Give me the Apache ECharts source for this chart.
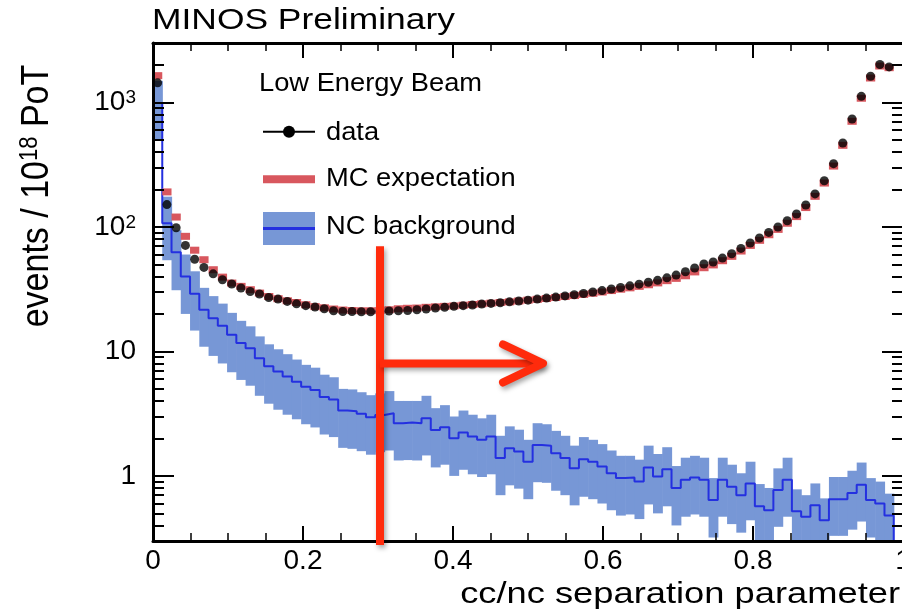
<!DOCTYPE html>
<html><head><meta charset="utf-8">
<script src="https://cdn.jsdelivr.net/npm/echarts@6/dist/echarts.min.js"></script>
<style>html,body{margin:0;padding:0;background:#fff}#c{width:902px;height:616px}</style>
</head><body><div id="c"></div>
<script>
const FONT = '"Liberation Sans", Arial, Helvetica, sans-serif';

// ---- data (80 bins along cc/nc separation parameter) ----
const binWidth = 1 / 81;
const dataVals = [1435,151,98.5,71,55,47.3,42,37.6,34.8,32.3,
  30.3,28.9,27.1,26.3,25.2,24.1,23.3,22.7,22.0,21.2,
  20.9,20.9,20.8,20.8,20.9,21.1,21.2,21.3,21.6,21.9,
  22.3,22.6,23.0,23.3,23.6,24.0,24.3,24.6,25.0,25.4,
  25.8,26.3,26.8,27.3,27.9,28.5,29.2,30.0,30.8,31.7,
  32.6,33.6,34.7,35.9,37.2,39.0,41.0,43.6,46.8,50.3,
  52.2,56.2,60.9,67.2,74.3,81.5,90.3,99.8,112,127,
  150,184,235,322,472,736,1119,1622,2014,1928];
const mcVals = [1640,191,120,84,65,54.5,45.3,39.5,35.4,33.3,
  31.3,29.4,27.6,26.5,25.5,24.7,23.7,22.9,22.4,21.9,
  21.5,21.3,21.2,21.2,21.3,21.6,22.0,22.2,22.3,22.6,
  22.8,23.0,23.2,23.5,23.8,24.1,24.4,24.7,25.0,25.4,
  25.8,26.2,26.6,27.1,27.6,28.1,28.7,29.3,30.0,30.8,
  31.6,32.4,33.3,34.3,35.5,37.0,38.6,40.5,43.5,47.0,
  49.5,53.5,58.0,64.0,71.0,78.0,86.5,95.5,107,121,
  143,176,225,308,452,705,1080,1570,1960,1900];
const ncVals = [990,107,62.5,40,29,21.6,18.5,16.1,13.6,11.7,
  10.6,8.8,7.6,6.9,6.3,5.7,5.2,4.9,4.3,4.1,
  3.35,3.3,3.15,2.96,3.09,3.19,2.65,2.68,2.65,2.91,
  2.34,2.46,2.01,2.23,2.07,1.95,2.07,1.39,1.67,1.57,
  1.30,1.77,1.75,1.52,1.39,1.15,1.36,1.30,1.19,1.05,
  0.96,0.97,0.90,1.17,0.99,1.13,0.80,0.93,0.97,0.93,
  0.64,0.93,0.82,0.70,0.87,0.57,0.53,0.77,0.93,0.52,
  0.47,0.58,0.44,0.65,0.65,0.73,0.85,0.64,0.60,0.48];
const ncLow = [500,54,31,20,14.7,10.9,9.2,8.0,6.8,5.9,
  5.3,4.4,3.8,3.4,3.1,2.85,2.6,2.45,2.15,2.05,
  1.68,1.65,1.58,1.48,1.55,1.6,1.33,1.34,1.33,1.46,
  1.17,1.23,1.0,1.12,1.03,0.98,1.03,0.7,0.84,0.79,
  0.65,0.89,0.88,0.76,0.7,0.58,0.68,0.65,0.6,0.53,
  0.48,0.49,0.45,0.59,0.5,0.57,0.4,0.47,0.49,0.47,
  0.32,0.47,0.41,0.35,0.44,0.29,0.27,0.39,0.47,0.26,
  0.24,0.29,0.22,0.33,0.33,0.37,0.43,0.32,0.3,0.24];
const ncHigh = [1490,175,94,60,44,32.4,27.8,24.2,20.4,17.6,
  15.9,13.2,11.4,10.4,9.5,8.6,7.8,7.4,6.5,6.2,
  5.0,4.95,4.7,4.45,4.6,4.8,4.0,4.0,4.0,4.4,
  3.5,3.7,3.0,3.35,3.1,2.9,3.1,2.1,2.5,2.35,
  1.95,2.65,2.6,2.3,2.1,1.75,2.05,1.95,1.8,1.6,
  1.45,1.45,1.35,1.75,1.5,1.7,1.2,1.4,1.45,1.4,
  0.96,1.4,1.23,1.05,1.3,0.86,0.8,1.15,1.4,0.78,
  0.7,0.87,0.66,0.98,0.98,1.1,1.28,0.96,0.9,0.72];

// ---- axes / ticks ----
const xTickLabels = {0: '0', 0.2: '0.2', 0.4: '0.4', 0.6: '0.6', 0.8: '0.8', 1: '1'};
const yMajorTicks = [1, 10, 100, 1000];
const yMinorTicks = [0.3,0.4,0.5,0.6,0.7,0.8,0.9, 2,3,4,5,6,7,8,9,
  20,30,40,50,60,70,80,90, 200,300,400,500,600,700,800,900, 2000];
const yTickLabels = {1: '{n|1}', 10: '{n|10}', 100: '{n|10}{s|2}', 1000: '{n|10}{s|3}'};
const yMin = 0.3, yMax = 3000;
const cutX = 0.3, cutTopVal = 70, arrowVal = 8, arrowEndX = 0.52;

// colours
const BAND = '#7797d6', NCLINE = '#2430e0', MCRED = '#d8575e', CUTRED = '#ff2b0c';

const bins = dataVals.map((_, i) => [i * binWidth, (i + 1) * binWidth]);
const bandData = bins.map((b, i) => [b[0], b[1], ncLow[i], ncHigh[i]]);
const mcData = bins.map((b, i) => [b[0], b[1], mcVals[i]]);
const dotData = bins.map((b, i) => [(b[0] + b[1]) / 2, dataVals[i]]);
const ncLine = bins.map((b, i) => [b[0], ncVals[i]]);
ncLine.push([bins[bins.length - 1][1], ncVals[ncVals.length - 1]]);
ncLine.push([bins[bins.length - 1][1], yMin]);

const chart = echarts.init(document.getElementById('c'), null, {renderer: 'canvas'});

const axisLineStyle = {color: '#000', width: 3};
function xAx(pos, labels) {
  return {
    type: 'value', min: 0, max: 1, interval: 0.2, position: pos, z: 10,
    axisLine: {show: true, onZero: false, lineStyle: axisLineStyle},
    axisTick: {show: true, inside: true, length: 15, lineStyle: {color: '#000', width: 2}},
    minorTick: {show: true, splitNumber: 4, length: 8, lineStyle: {color: '#000', width: 1.5}},
    minorSplitLine: {show: false},
    axisLabel: labels ? {show: true, margin: 6, fontSize: 28, fontFamily: FONT, color: '#000',
      formatter: v => xTickLabels[Math.round(v * 10) / 10] ?? ''} : {show: false},
    splitLine: {show: false}
  };
}
function yAx(pos, major, labels) {
  return {
    type: 'log', logBase: 10, min: yMin, max: yMax, position: pos, z: 10,
    axisLine: {show: major, onZero: false, lineStyle: axisLineStyle},
    axisTick: {show: true, inside: true, length: major ? 21 : 11,
      customValues: major ? yMajorTicks : yMinorTicks, lineStyle: {color: '#000', width: 2}},
    minorTick: {show: false},
    axisLabel: labels ? {show: true, margin: 17, color: '#000', fontFamily: FONT,
      customValues: yMajorTicks,
      formatter: v => yTickLabels[Math.round(v)] ?? '',
      rich: {n: {fontSize: 28, fontFamily: FONT, color: '#000'},
             s: {fontSize: 19, fontFamily: FONT, color: '#000', verticalAlign: 'top'}}} : {show: false},
    splitLine: {show: false}
  };
}

const option = {
  animation: false,
  backgroundColor: '#fff',
  grid: {left: 153, right: -1, top: 43, bottom: 75, containLabel: false, outerBoundsMode: 'none'},
  xAxis: [xAx('bottom', true), xAx('top', false)],
  yAxis: [yAx('left', true, true), yAx('left', false, false), yAx('right', true, false), yAx('right', false, false)],
  series: [
    {
      type: 'custom', name: 'NC band', xAxisIndex: 0, yAxisIndex: 0, z: 1, clip: true,
      data: bandData, encode: {x: [0, 1], y: [2, 3]},
      renderItem: (params, api) => {
        const p0 = api.coord([api.value(0), api.value(3)]);
        const p1 = api.coord([api.value(1), api.value(2)]);
        return {type: 'rect', shape: {x: p0[0], y: p0[1], width: p1[0] - p0[0] + 0.6, height: p1[1] - p0[1]},
          style: {fill: BAND}};
      }
    },
    {
      type: 'line', name: 'NC background', xAxisIndex: 0, yAxisIndex: 0, z: 2, step: 'end',
      data: ncLine, symbol: 'none', clip: true, lineStyle: {color: NCLINE, width: 2}
    },
    {
      type: 'custom', name: 'MC expectation', xAxisIndex: 0, yAxisIndex: 0, z: 3, clip: true,
      data: mcData, encode: {x: [0, 1], y: 2},
      renderItem: (params, api) => {
        const p0 = api.coord([api.value(0), api.value(2)]);
        const p1 = api.coord([api.value(1), api.value(2)]);
        return {type: 'rect', shape: {x: p0[0], y: p0[1] - 3.5, width: p1[0] - p0[0], height: 7},
          style: {fill: MCRED}};
      }
    },
    {
      type: 'scatter', name: 'data', xAxisIndex: 0, yAxisIndex: 0, z: 4,
      data: dotData, symbol: 'circle', symbolSize: 9, itemStyle: {color: '#000'}
    }
  ]
};
chart.setOption(option);

function txt(text, x, y, fs, align, extra) {
  return Object.assign({
    type: 'text', x: x, y: y, z: 100,
    style: {text: text, x: 0, y: 0, fontSize: fs, fontFamily: FONT, fill: '#000',
      align: align, textAlign: align, verticalAlign: 'middle', textVerticalAlign: 'middle'}
  }, extra || {});
}

const cp = v => chart.convertToPixel({xAxisIndex: 0, yAxisIndex: 0}, v);
const pTop = cp([cutX, cutTopVal]);
const pBot = cp([cutX, yMin]);
const pA = cp([cutX, arrowVal]);
const pTip = cp([arrowEndX, arrowVal]);
const shadow = {shadowBlur: 5, shadowColor: 'rgba(0,0,0,0.35)', shadowOffsetX: 2, shadowOffsetY: 3};

const graphics = [
  txt('MINOS Preliminary', 152, 21, 30, 'left', {scaleX: 1.18}),
  txt('cc/nc separation parameter', 900, 595, 30, 'right', {scaleX: 1.21}),
  {
    type: 'text', x: 37, y: 196, rotation: Math.PI / 2, scaleY: 1.15, z: 100,
    style: {text: '{a|events / 10}{s|18}{a| PoT}', x: 0, y: 0, align: 'center', textAlign: 'center',
      verticalAlign: 'middle', textVerticalAlign: 'middle',
      rich: {a: {fontSize: 34, fontFamily: FONT, fill: '#000', color: '#000'},
             s: {fontSize: 22, fontFamily: FONT, fill: '#000', color: '#000', verticalAlign: 'top'}}}
  },
  // legend
  txt('Low Energy Beam', 259, 84, 26, 'left', {scaleX: 1.05}),
  {type: 'line', z: 100, shape: {x1: 263, y1: 131.7, x2: 315, y2: 131.7}, style: {stroke: '#000', lineWidth: 2}},
  {type: 'circle', z: 101, shape: {cx: 289, cy: 131.7, r: 6}, style: {fill: '#000'}},
  txt('data', 326, 132.5, 26, 'left', {scaleX: 1.05}),
  {type: 'rect', z: 100, shape: {x: 263, y: 175.3, width: 52, height: 8}, style: {fill: MCRED}},
  txt('MC expectation', 326, 179, 26, 'left', {scaleX: 1.05}),
  {type: 'rect', z: 100, shape: {x: 263, y: 212, width: 52, height: 33}, style: {fill: BAND}},
  {type: 'line', z: 101, shape: {x1: 263, y1: 228.5, x2: 315, y2: 228.5}, style: {stroke: NCLINE, lineWidth: 3}},
  txt('NC background', 326, 227, 26, 'left', {scaleX: 1.05}),
  // cut annotation
  {type: 'line', z: 200, shape: {x1: pTop[0] + 2, y1: pTop[1], x2: pBot[0] + 2, y2: pBot[1] + 4},
    style: Object.assign({stroke: CUTRED, lineWidth: 8}, shadow)},
  {type: 'line', z: 200, shape: {x1: pA[0] + 2, y1: pA[1], x2: pTip[0], y2: pTip[1]},
    style: Object.assign({stroke: CUTRED, lineWidth: 8}, shadow)},
  {type: 'polyline', z: 200, shape: {points: [[pTip[0] - 40, pTip[1] - 19], [pTip[0], pTip[1]], [pTip[0] - 40, pTip[1] + 19]]},
    style: Object.assign({stroke: CUTRED, lineWidth: 8, lineCap: 'round', lineJoin: 'round', fill: 'none'}, shadow)}
];
chart.setOption({graphic: graphics});
</script>
</body></html>
